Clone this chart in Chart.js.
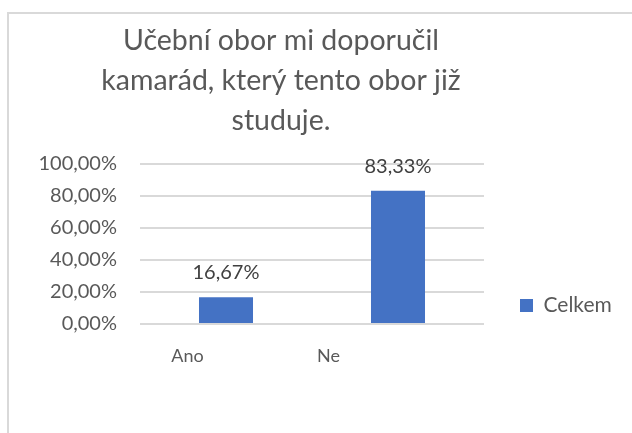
<!DOCTYPE html>
<html><head><meta charset="utf-8">
<script src="https://cdn.jsdelivr.net/npm/chart.js@4/dist/chart.umd.min.js"></script>
<style>
html,body{margin:0;padding:0;background:#fff;overflow:hidden;width:632px;height:433px;}
#c{position:absolute;left:-50px;top:0;}
</style></head><body>
<canvas id="c" width="682" height="433"></canvas>
<script>
const titleLines = ['Učební obor mi doporučil', 'kamarád, který tento obor již', 'studuje.'];
const categories = ['Ano', 'Ne'];
const seriesName = 'Celkem';
const values = [16.67, 83.33];
const yTickValues = [0, 20, 40, 60, 80, 100];
const yTickLabels = ['0,00%', '20,00%', '40,00%', '60,00%', '80,00%', '100,00%'];
const valueLabels = ['16,67%', '83,33%'];

Chart.defaults.font.family = "Lato, 'Open Sans', sans-serif";
Chart.defaults.color = '#595959';

const framePlugin = {
  id: 'frame',
  beforeDraw(chart) {
    const c = chart.ctx;
    c.save();
    c.fillStyle = '#ffffff';
    c.fillRect(0, 0, chart.width, chart.height);
    c.strokeStyle = '#d9d9d9';
    c.lineWidth = 2;
    c.strokeRect(58, 13, 2000, 2000);
    c.restore();
  }
};

const valueLabelPlugin = {
  id: 'valueLabels',
  afterDatasetsDraw(chart) {
    const ctx = chart.ctx;
    const meta = chart.getDatasetMeta(0);
    ctx.save();
    ctx.font = "20px Lato, 'Open Sans', sans-serif";
    ctx.fillStyle = '#404040';
    ctx.textAlign = 'center';
    ctx.textBaseline = 'alphabetic';
    meta.data.forEach((bar, i) => {
      ctx.fillText(valueLabels[i], bar.x, bar.y - 18);
    });
    ctx.restore();
  }
};

new Chart(document.getElementById('c'), {
  type: 'bar',
  data: {
    labels: categories,
    datasets: [{
      label: seriesName,
      data: values,
      backgroundColor: '#4472C4',
      barPercentage: 0.314,
      categoryPercentage: 1,
      xAxisID: 'x',
      yAxisID: 'y'
    }]
  },
  options: {
    responsive: false,
    animation: false,
    layout: { padding: { left: 0, right: 20, top: 0, bottom: 0 } },
    plugins: {
      title: {
        display: true,
        text: titleLines,
        color: '#595959',
        font: { size: 28.5, weight: 'normal', lineHeight: 40 / 28.5 },
        padding: { top: 21, bottom: 23 }
      },
      legend: {
        position: 'right',
        align: 'end',
        fullSize: false,
        maxWidth: 100,
        labels: { boxWidth: 13, boxHeight: 13, padding: 8, color: '#595959', font: { size: 21 } }
      },
      tooltip: { enabled: false }
    },
    scales: {
      x: { type: 'category', display: false, offset: true },
      xLabels: {
        type: 'linear',
        position: 'bottom',
        offset: false,
        min: -0.3369,
        max: 2.1028,
        grid: { display: false, drawTicks: false, offset: false },
        border: { display: false },
        ticks: {
          color: '#595959',
          font: { size: 18 },
          padding: 21,
          autoSkip: false,
          maxRotation: 0,
          callback: (v) => categories[v] !== undefined ? categories[v] : ''
        },
        afterBuildTicks: (s) => { s.ticks = categories.map((_, i) => ({ value: i })); },
        afterFit: (s) => { s.height = 109; }
      },
      y: {
        position: 'left',
        min: 0,
        max: 100,
        afterBuildTicks: (s) => { s.ticks = yTickValues.map(v => ({ value: v })); },
        ticks: {
          callback: (v, i) => yTickLabels[i],
          padding: 23,
          color: '#595959',
          font: { size: 20 }
        },
        grid: { color: '#d9d9d9', lineWidth: 2, drawTicks: false },
        border: { display: false },
        afterFit: (s) => { s.width = 190; }
      },
      yRight: {
        type: 'linear',
        position: 'right',
        min: 0,
        max: 1,
        grid: { display: false, drawTicks: false },
        border: { display: false },
        ticks: { display: false },
        afterFit: (s) => { s.width = 28; }
      }
    }
  },
  plugins: [framePlugin, valueLabelPlugin]
});
</script>
</body></html>
